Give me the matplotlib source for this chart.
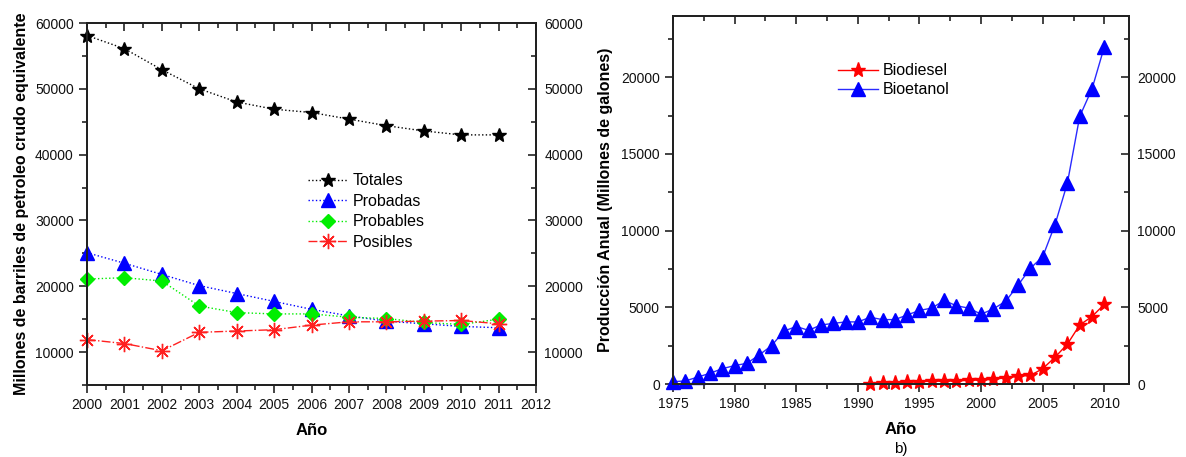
import matplotlib
matplotlib.use("Agg")
import matplotlib.pyplot as plt
from matplotlib.ticker import MultipleLocator

plt.rcParams["font.family"] = ["Liberation Sans", "DejaVu Sans"]

# reservas (millones de barriles de petroleo crudo equivalente)
years_res = [2000, 2001, 2002, 2003, 2004, 2005, 2006, 2007, 2008, 2009, 2010, 2011]
totales = [58100, 56100, 52900, 50000, 48000, 46900, 46400, 45400, 44400, 43600, 43000, 43000]
probadas = [25100, 23500, 21800, 20100, 18900, 17700, 16500, 15500, 14700, 14300, 13900, 13700]
probables = [21100, 21300, 20800, 17000, 16000, 15800, 15800, 15300, 15100, 14500, 14200, 15000]
posibles = [11900, 11300, 10200, 13000, 13200, 13400, 14100, 14600, 14600, 14700, 14800, 14300]

# produccion anual de biocombustibles (millones de galones)
years_etanol = list(range(1975, 2011))
bioetanol = [150, 200, 450, 700, 1000, 1200, 1350, 1900, 2500, 3450, 3750, 3500,
             3850, 3950, 4050, 4050, 4350, 4200, 4200, 4500, 4800, 4950, 5450, 5100,
             4950, 4550, 4900, 5400, 6450, 7550, 8300, 10400, 13100, 17450, 19250, 22000]
years_diesel = list(range(1991, 2011))
biodiesel = [20, 40, 60, 100, 150, 180, 190, 200, 240, 260, 300, 410, 500, 560,
             1000, 1750, 2600, 3850, 4400, 5200]

W, H = 1186, 457
fig = plt.figure(figsize=(W / 100, H / 100), dpi=100)

TICK = dict(labelsize=10, colors="#111111", width=1.1)


def style(ax, xlim, ylim, xmaj, xmin, ymaj, ymin):
    ax.set_xlim(*xlim)
    ax.set_ylim(*ylim)
    for s in ax.spines.values():
        s.set_linewidth(1.3)
        s.set_color("#222222")
    ax.xaxis.set_major_locator(MultipleLocator(xmaj))
    ax.xaxis.set_minor_locator(MultipleLocator(xmin))
    ax.yaxis.set_major_locator(MultipleLocator(ymaj))
    ax.yaxis.set_minor_locator(MultipleLocator(ymin))
    ax.tick_params(which="both", direction="out", **TICK)
    ax.tick_params(which="major", length=6)
    ax.tick_params(which="minor", length=3.5)

    axr = ax.twinx()
    axr.set_ylim(*ylim)
    axr.yaxis.set_major_locator(MultipleLocator(ymaj))
    axr.yaxis.set_minor_locator(MultipleLocator(ymin))
    axr.tick_params(which="both", direction="in", **TICK)
    axr.tick_params(which="major", length=6, pad=6)
    axr.tick_params(which="minor", length=3.5)

    axt = ax.twiny()
    axt.set_xlim(*xlim)
    axt.xaxis.set_major_locator(MultipleLocator(xmaj))
    axt.xaxis.set_minor_locator(MultipleLocator(xmin))
    axt.tick_params(which="both", direction="in", labeltop=False, **TICK)
    axt.tick_params(which="major", length=6)
    axt.tick_params(which="minor", length=3.5)
    for a in (axr, axt):
        for s in a.spines.values():
            s.set_linewidth(1.3)
            s.set_color("#222222")


# panel izquierdo
ax1 = fig.add_axes([87 / W, 1 - 385 / H, 449 / W, 362 / H])
ax1.plot(years_res, totales, ls=":", lw=1, color="black", marker="*", ms=10,
         label="Totales", clip_on=False, zorder=5)
ax1.plot(years_res, probadas, ls=":", lw=1, color="#0000ff", marker="^", ms=10,
         label="Probadas", clip_on=False, zorder=4)
ax1.plot(years_res, probables, ls=":", lw=1, color="#00ee00", marker="D", ms=7.5,
         label="Probables", clip_on=False, zorder=4)
ax1.plot(years_res, posibles, ls="-.", lw=1, color="#ff2020", marker=(8, 2, 0), ms=11,
         mew=1, label="Posibles", clip_on=False, zorder=4)
ax1.set_xlabel("Año", fontsize=12, fontweight="bold", labelpad=8)
ax1.set_ylabel("Millones de barriles de petroleo crudo equivalente", fontsize=11.5,
               fontweight="bold", labelpad=4)
ax1.legend(loc="upper left", bbox_to_anchor=(0.46, 0.625), frameon=False, fontsize=11.5,
           labelspacing=0.35, handlelength=2.5, handletextpad=0.3)
style(ax1, (2000, 2012), (5000, 60000), 1, 0.5, 10000, 5000)

# panel derecho
ax2 = fig.add_axes([673 / W, 1 - 384 / H, 456 / W, 368 / H])
ax2.plot(years_diesel, biodiesel, ls="-", lw=1, color="#ff0000", marker="*", ms=11,
         label="Biodiesel", clip_on=False, zorder=5)
ax2.plot(years_etanol, bioetanol, ls="-", lw=1, color="#2a2aff", marker="^", ms=10,
         mfc="#0000ff", mec="#0000ff", label="Bioetanol", clip_on=False, zorder=4)
ax2.set_xlabel("Año", fontsize=12, fontweight="bold", labelpad=8)
ax2.set_ylabel("Producción Anual (Millones de galones)", fontsize=11.5,
               fontweight="bold", labelpad=6)
ax2.legend(loc="upper left", bbox_to_anchor=(0.33, 0.91), frameon=False, fontsize=11.5,
           labelspacing=0.25, handlelength=2.5, handletextpad=0.3)
style(ax2, (1975, 2012), (0, 24000), 5, 2.5, 5000, 2500)
fig.text((673 + 1129) / 2 / W, 1 - 449 / H, "b)", ha="center", va="center", fontsize=11)

fig.savefig("out.png", dpi=100)
